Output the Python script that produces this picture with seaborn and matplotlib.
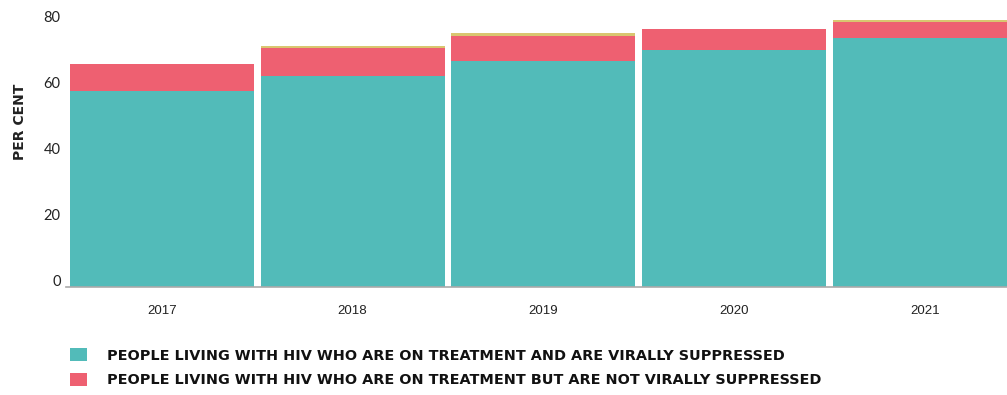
import matplotlib
matplotlib.use("Agg")
import matplotlib.pyplot as plt
import matplotlib.transforms as mtransforms
from matplotlib.patches import Patch
import seaborn as sns
import pandas as pd

years = ["2017", "2018", "2019", "2020", "2021"]
suppressed = [59.5, 64.1, 68.4, 72.0, 75.6]
not_suppressed = [8.1, 8.5, 7.8, 6.3, 4.9]
other = [0.0, 0.6, 0.8, 0.0, 0.4]
legend_labels = [
    "PEOPLE LIVING WITH HIV WHO ARE ON TREATMENT AND ARE VIRALLY SUPPRESSED",
    "PEOPLE LIVING WITH HIV WHO ARE ON TREATMENT BUT ARE NOT VIRALLY SUPPRESSED",
]

TEAL = "#52BBB9"
RED = "#EE6071"
YELLOW = "#D9C670"

df = pd.DataFrame({"year": years, "s": suppressed, "n": not_suppressed, "o": other})
df["top2"] = df["s"] + df["n"]
df["top3"] = df["top2"] + df["o"]

sns.set_theme(style="white")
fig = plt.figure(figsize=(10.07, 3.95), dpi=100)
ax = fig.add_axes([66.3 / 1007, 108.5 / 395, (1020.4 - 66.3) / 1007, 1 - 108.5 / 395])

w = 0.964
sns.barplot(data=df, x="year", y="top3", order=years, color=YELLOW, width=w,
            saturation=1, linewidth=0, ax=ax)
sns.barplot(data=df, x="year", y="top2", order=years, color=RED, width=w,
            saturation=1, linewidth=0, ax=ax)
sns.barplot(data=df, x="year", y="s", order=years, color=TEAL, width=w,
            saturation=1, linewidth=0, ax=ax)

ax.set_xlim(-0.5, 4.5)
ax.set_ylim(0, 286.5 / 3.29)
ax.set_yticks([0, 20, 40, 60, 80])
ax.set_xlabel("")
ax.set_ylabel("PER CENT", fontsize=10, fontweight="bold", family="DejaVu Sans",
              color="#222222")
ax.yaxis.set_label_coords((26.5 - 66.3) / 954.1, (286.5 - 121.5) / 286.5)

for s in ["top", "right", "left"]:
    ax.spines[s].set_visible(False)
ax.spines["bottom"].set_color("#AAAAAA")
ax.spines["bottom"].set_linewidth(1.2)

ax.tick_params(axis="x", length=0, pad=13, labelsize=9.5, labelcolor="#222222")
ax.tick_params(axis="y", length=0, pad=4, labelsize=10.5, labelcolor="#222222")
for lab in ax.get_xticklabels():
    lab.set_family("Liberation Sans")
off = mtransforms.ScaledTranslation(0, 6.5 / 100, fig.dpi_scale_trans)
for lab in ax.get_yticklabels():
    lab.set_family("Lato")
    lab.set_transform(lab.get_transform() + off)

handles = [Patch(facecolor=TEAL, edgecolor="none"), Patch(facecolor=RED, edgecolor="none")]
leg = fig.legend(handles, legend_labels, loc="upper left",
                 bbox_to_anchor=(70 / 1007, 1 - 348 / 395),
                 frameon=False, borderpad=0, borderaxespad=0,
                 prop={"family": "DejaVu Sans", "weight": "bold", "size": 10.35},
                 handlelength=1.18, handleheight=1.05, handletextpad=1.4,
                 labelspacing=0.72)
for t in leg.get_texts():
    t.set_color("#111111")

fig.savefig("out.png", dpi=100)
